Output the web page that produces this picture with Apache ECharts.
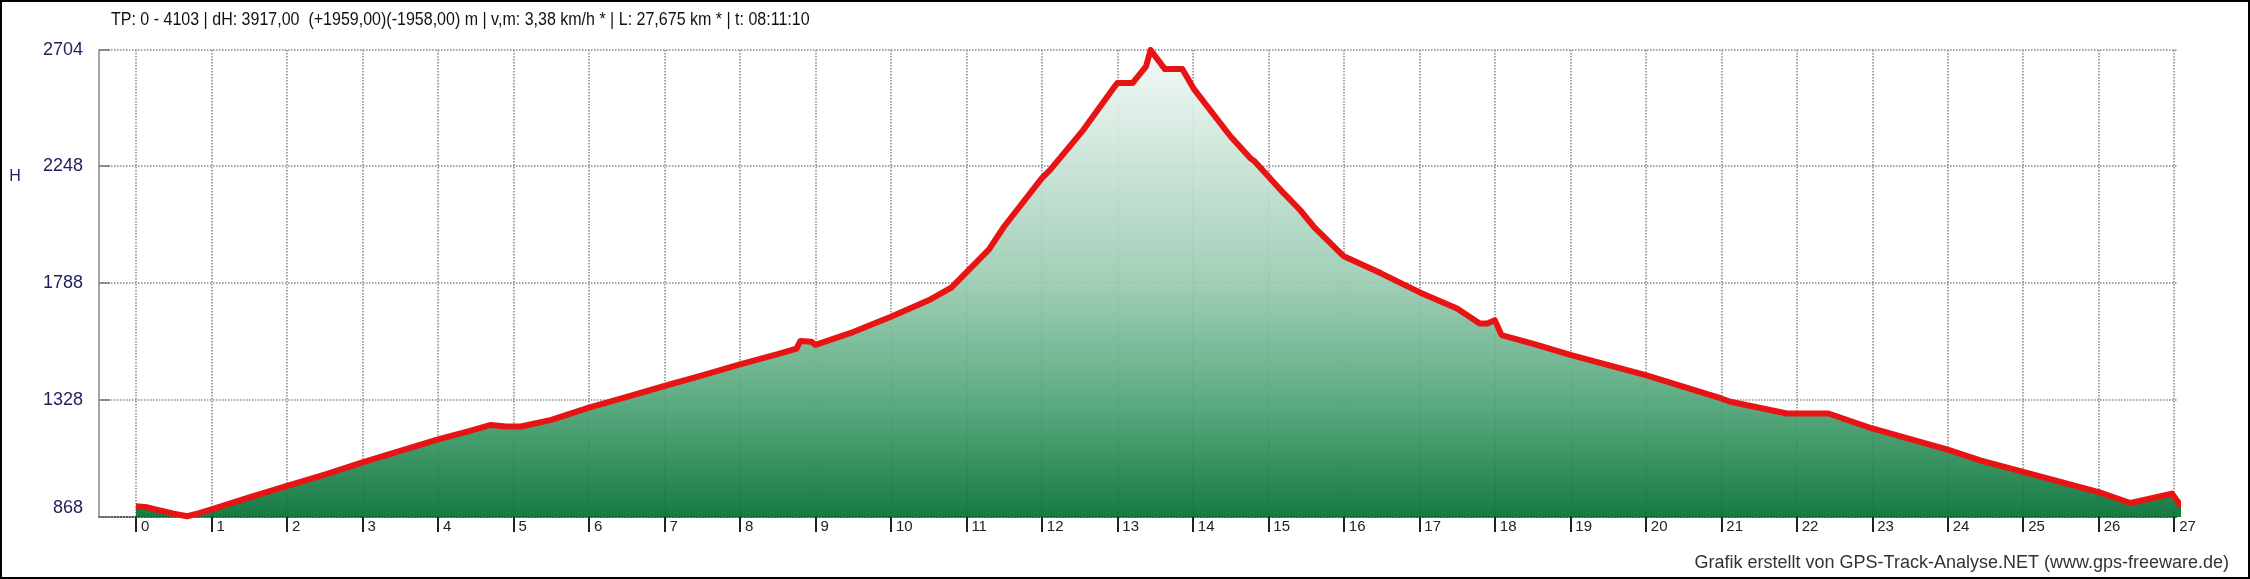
<!DOCTYPE html>
<html><head><meta charset="utf-8">
<script src="https://cdn.jsdelivr.net/npm/echarts@6/dist/echarts.min.js"></script>
<style>html,body{margin:0;padding:0;background:#fff}#c{width:2250px;height:579px}</style>
</head><body><div id="c"></div>
<script>
// distance along track (km)
const distanceKm = [0, 0.15, 0.3, 0.5, 0.68, 0.85, 1.0, 1.5, 2.0, 2.5, 3.0, 3.5, 4.0, 4.4, 4.7, 4.9, 5.1, 5.5, 6.0, 6.5, 7.0, 7.5, 8.0, 8.5, 8.75, 8.8, 8.95, 9.0, 9.5, 10.0, 10.5, 10.8, 11.0, 11.3, 11.5, 12.0, 12.11, 12.55, 12.95, 13.0, 13.2, 13.38, 13.44, 13.63, 13.86, 14.02, 14.5, 14.76, 14.82, 15.2, 15.42, 15.6, 16.0, 16.5, 17.0, 17.5, 17.8, 17.9, 18.0, 18.09, 18.5, 19.0, 20.0, 21.0, 21.12, 21.87, 22.42, 23.0, 24.0, 24.43, 25.0, 26.0, 26.42, 26.97, 27.1];
// elevation (m)
const elevationM = [910, 906, 895, 881, 871, 884, 898, 945, 990, 1035, 1083, 1128, 1173, 1205, 1230, 1224, 1224, 1250, 1298, 1340, 1383, 1425, 1468, 1508, 1530, 1560, 1557, 1545, 1595, 1655, 1720, 1770, 1830, 1920, 2010, 2200, 2233, 2390, 2555, 2574, 2574, 2640, 2704, 2629, 2629, 2548, 2364, 2279, 2266, 2142, 2075, 2010, 1893, 1825, 1752, 1688, 1629, 1629, 1642, 1583, 1550, 1505, 1426, 1334, 1321, 1275, 1275, 1216, 1133, 1091, 1045, 966, 923, 960, 907];
const xTickValues = [0,1,2,3,4,5,6,7,8,9,10,11,12,13,14,15,16,17,18,19,20,21,22,23,24,25,26,27];
const yTickValues = [868, 1328, 1788, 2248, 2704];
const titleText = 'TP: 0 - 4103 | dH: 3917,00  (+1959,00)(-1958,00) m | v,m: 3,38 km/h * | L: 27,675 km * | t: 08:11:10';
const footerText = 'Grafik erstellt von GPS-Track-Analyse.NET (www.gps-freeware.de)';
const yName = 'H';

const FONT = '"Liberation Sans", Arial, sans-serif';
const data = distanceKm.map((d, i) => [d, elevationM[i]]);
const chart = echarts.init(document.getElementById('c'));
chart.setOption({
  animation: false,
  backgroundColor: '#fff',
  grid: { left: 99, right: 72, top: 50, bottom: 62, containLabel: false },
  xAxis: {
    type: 'value', min: -0.49, max: 27.05,
    axisLine: { show: true, onZero: false, lineStyle: { color: '#333', type: 'dotted', width: 1.5 } },
    axisTick: { show: true, customValues: xTickValues, length: 15, lineStyle: { color: '#222', width: 2 } },
    axisLabel: { customValues: xTickValues, align: 'left', padding: [0, 0, 0, 5], margin: 2, fontSize: 15, color: '#222', fontFamily: FONT },
    splitLine: { show: true, lineStyle: { type: 'dotted', color: '#888', width: 1.5 } }
  },
  yAxis: {
    type: 'value', min: 868, max: 2704,
    axisLine: { show: true, onZero: false, lineStyle: { color: '#888', width: 1.5 } },
    axisTick: { show: true, inside: true, length: 11, customValues: yTickValues, lineStyle: { color: '#777', width: 1.5 } },
    axisLabel: { customValues: yTickValues, formatter: v => String(v), fontSize: 18, color: '#1f1f5a', margin: 16, fontFamily: FONT, verticalAlignMinLabel: 'bottom' },
    splitLine: { show: true, lineStyle: { type: 'dotted', color: '#888', width: 1.5 } }
  },
  series: [{
    type: 'line', data: data, showSymbol: false, smooth: false,
    lineStyle: { color: '#e81414', width: 6, join: 'round' },
    areaStyle: {
      opacity: 0.92,
      color: new echarts.graphic.LinearGradient(0, 0, 0, 1, [
        { offset: 0, color: '#f2f9f6' },
        { offset: 0.25, color: '#c6e2d4' },
        { offset: 0.5, color: '#98cab0' },
        { offset: 0.75, color: '#4fa577' },
        { offset: 1, color: '#036f33' }
      ])
    }
  }],
  graphic: [
    { type: 'text', x: 111, y: 20, scaleX: 0.89, style: { text: titleText, fontSize: 18, fontFamily: FONT, fill: '#111', verticalAlign: 'middle' } },
    { type: 'text', x: 15, y: 177, style: { text: yName, fontSize: 16, fontFamily: FONT, fill: '#1f1f5a', align: 'center', verticalAlign: 'middle' } },
    { type: 'text', x: 2229, y: 563, style: { text: footerText, fontSize: 18, fontFamily: FONT, fill: '#333', align: 'right', verticalAlign: 'middle' } },
    { type: 'rect', z: 100, shape: { x: 1, y: 1, width: 2248, height: 577 }, style: { fill: 'transparent', stroke: '#000', lineWidth: 2 } }
  ]
});
</script></body></html>
